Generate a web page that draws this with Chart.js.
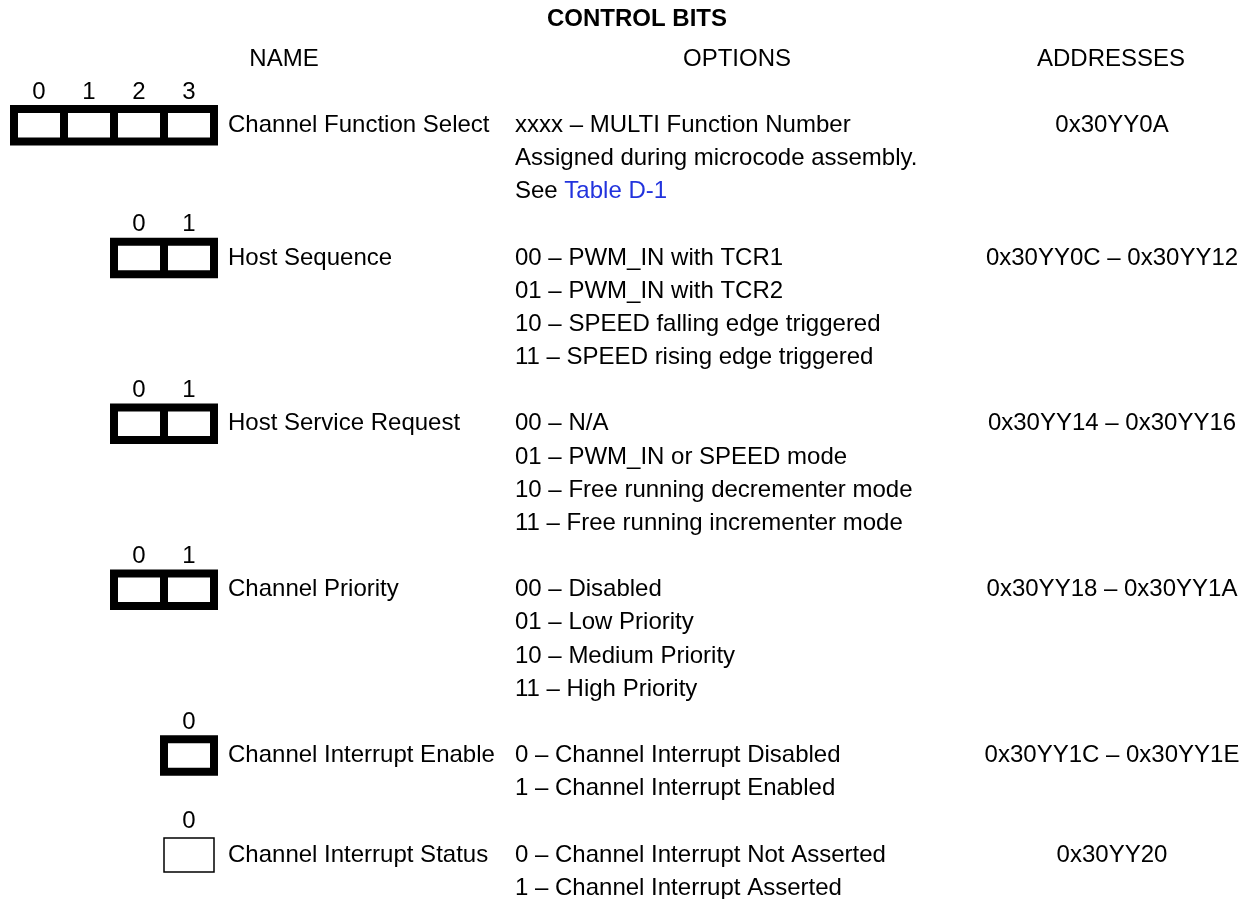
<!DOCTYPE html>
<html>
<head>
<meta charset="utf-8">
<script src="https://cdn.jsdelivr.net/npm/chart.js@4.4.0/dist/chart.umd.min.js"></script>
<style>
  html, body { margin: 0; padding: 0; background: #fff; }
  #wrap { width: 1251px; height: 899px; position: relative; }
</style>
</head>
<body>
<div id="wrap"><canvas id="bitsChart"></canvas></div>
<script>
const chartTitle = "CONTROL BITS";
const columnHeaders = ["NAME", "OPTIONS", "ADDRESSES"];
const fieldNames = [
    "Channel Function Select",
    "Host Sequence",
    "Host Service Request",
    "Channel Priority",
    "Channel Interrupt Enable",
    "Channel Interrupt Status"
];
const fieldBits = [4, 2, 2, 2, 1, 1];
const fieldReadOnly = [false, false, false, false, false, true];
const fieldOptions = [
    ["xxxx – MULTI Function Number", "Assigned during microcode assembly.", "See Table D-1"],
    ["00 – PWM_IN with TCR1", "01 – PWM_IN with TCR2", "10 – SPEED falling edge triggered", "11 – SPEED rising edge triggered"],
    ["00 – N/A", "01 – PWM_IN or SPEED mode", "10 – Free running decrementer mode", "11 – Free running incrementer mode"],
    ["00 – Disabled", "01 – Low Priority", "10 – Medium Priority", "11 – High Priority"],
    ["0 – Channel Interrupt Disabled", "1 – Channel Interrupt Enabled"],
    ["0 – Channel Interrupt Not Asserted", "1 – Channel Interrupt Asserted"]
];
const fieldAddresses = [
    "0x30YY0A",
    "0x30YY0C – 0x30YY12",
    "0x30YY14 – 0x30YY16",
    "0x30YY18 – 0x30YY1A",
    "0x30YY1C – 0x30YY1E",
    "0x30YY20"
];
const linkText = "Table D-1";

// layout (pixels)
const W = 1251, H = 899;
const FONT = '"Liberation Sans", Arial, Helvetica, sans-serif';
const FS = 24;
const BIT_PX = 50, BIT_X0 = 14;        // x: one unit = one bit cell
const LINE_PX = 33.17, LINE_Y0 = 23.8; // y: one unit = one text line
const MAXBITS = 4;
const NAME_X = 228, OPT_X = 515, ADDR_CX = 1112;
const HEAD_CX = [284, 737, 1111], TITLE_CX = 637;

// line index of each field row: 3 header lines, then options + one label line each
const rowLine = [];
let ln = 3;
fieldNames.forEach((n, i) => { rowLine.push(ln); ln += fieldOptions[i].length + 1; });

function boxSets(i){
    const n = fieldBits[i], a = MAXBITS - n, b = MAXBITS, y = rowLine[i] + 0.06;
    const thin = fieldReadOnly[i];
    const h = thin ? 0.51 : 0.49;
    const top = y - h, bot = y + h, mid = (a + b) / 2;
    const style = { showLine: true, pointRadius: 0, borderColor: "#000", borderWidth: thin ? 1.5 : 8,
                    borderJoinStyle: "miter", fill: false, tension: 0 };
    const sets = [Object.assign({ data: [
        {x: mid, y: top}, {x: b, y: top}, {x: b, y: bot}, {x: a, y: bot}, {x: a, y: top}, {x: mid, y: top}
    ]}, style)];
    // dividers poke a little above the top edge, as in the print
    for(let k = 1; k < n; k++){
        sets.push(Object.assign({ data: [{x: a + k, y: top - 0.06}, {x: a + k, y: bot}] }, style));
    }
    return sets;
}

const textPlugin = {
    id: "bitText",
    afterDraw(chart){
        const { ctx, scales: { x, y } } = chart;
        const base = v => y.getPixelForValue(v) + 8.6;
        ctx.save();
        ctx.fillStyle = "#000";
        ctx.textBaseline = "alphabetic";

        ctx.font = `bold ${FS}px ${FONT}`;
        ctx.textAlign = "center";
        ctx.fillText(chartTitle, TITLE_CX, base(-0.18));

        ctx.font = `${FS}px ${FONT}`;
        columnHeaders.forEach((t, i) => ctx.fillText(t, HEAD_CX[i], base(1)));

        fieldNames.forEach((name, i) => {
            const r = rowLine[i], n = fieldBits[i];
            ctx.textAlign = "center";
            for(let k = 0; k < n; k++){
                ctx.fillText(String(k), x.getPixelForValue(MAXBITS - n + k + 0.5), base(r - 1));
            }
            ctx.fillText(fieldAddresses[i], ADDR_CX, base(r));
            ctx.textAlign = "left";
            ctx.fillText(name, NAME_X, base(r));
            fieldOptions[i].forEach((opt, j) => {
                const li = opt.indexOf(linkText);
                if(li >= 0){
                    const pre = opt.slice(0, li);
                    ctx.fillStyle = "#000";
                    ctx.fillText(pre, OPT_X, base(r + j));
                    ctx.fillStyle = "#2233dd";
                    ctx.fillText(linkText, OPT_X + ctx.measureText(pre).width, base(r + j));
                    ctx.fillStyle = "#000";
                } else {
                    ctx.fillText(opt, OPT_X, base(r + j));
                }
            });
        });
        ctx.restore();
    }
};

let bitsChart = null;

function bootChart(){
    const cv = document.getElementById("bitsChart");
    let datasets = [];
    fieldNames.forEach((n, i) => { datasets = datasets.concat(boxSets(i)); });
    bitsChart = new Chart(cv.getContext("2d"), {
        type: "scatter",
        data: { datasets },
        options: {
            responsive: true, maintainAspectRatio: false, animation: false, events: [],
            layout: { padding: 0 },
            plugins: { legend: { display: false }, tooltip: { enabled: false } },
            scales: {
                x: { type: "linear", display: false, min: -BIT_X0 / BIT_PX, max: (W - BIT_X0) / BIT_PX },
                y: { type: "linear", display: false, reverse: true, min: -LINE_Y0 / LINE_PX, max: (H - LINE_Y0) / LINE_PX }
            }
        },
        plugins: [textPlugin]
    });
}

document.addEventListener("DOMContentLoaded", bootChart);
</script>
</body>
</html>
